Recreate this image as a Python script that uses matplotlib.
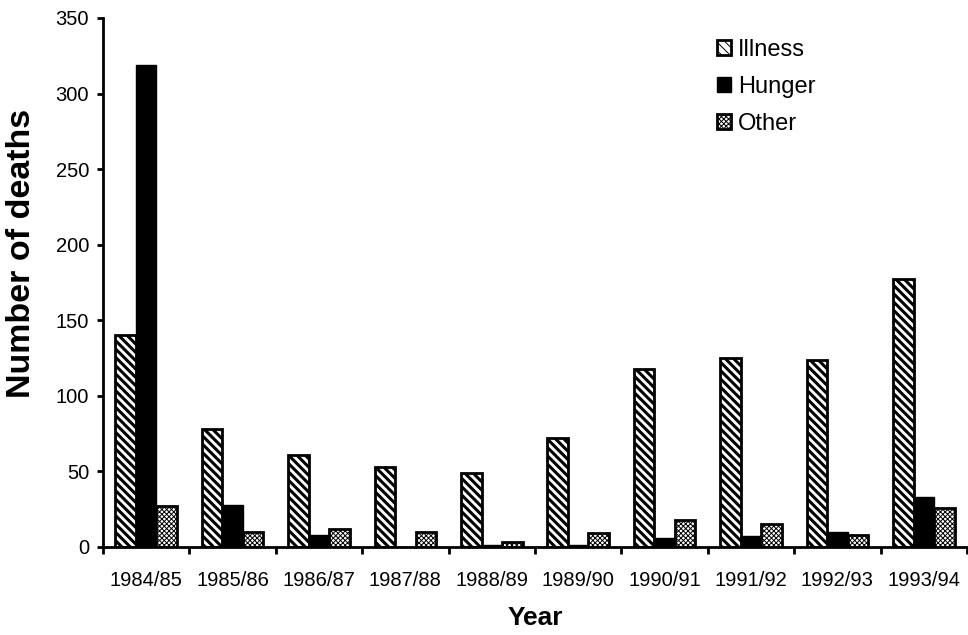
import numpy as np
import matplotlib.pyplot as plt

plt.rcParams['font.family'] = ['Liberation Sans', 'DejaVu Sans']

years = ['1984/85', '1985/86', '1986/87', '1987/88', '1988/89',
         '1989/90', '1990/91', '1991/92', '1992/93', '1993/94']
illness = [140, 78, 61, 53, 49, 72, 118, 125, 124, 177]
hunger = [319, 28, 8, 0, 1, 1, 6, 7, 10, 33]
other = [27, 10, 12, 10, 3, 9, 18, 15, 8, 26]

fig = plt.figure(figsize=(9.68, 6.35), dpi=100)
ax = fig.add_axes([0.1064, 0.1386, 0.8926, 0.8331])

x = np.arange(len(years))
w = 0.237

plt.rcParams['hatch.linewidth'] = 2.2
b1 = ax.bar(x - w, illness, w, color='white', edgecolor='black',
            linewidth=2.0, hatch='\\\\\\\\', label='Illness')
b2 = ax.bar(x, hunger, w, color='black', edgecolor='black',
            linewidth=1.0, label='Hunger')
plt.rcParams['hatch.linewidth'] = 0.7
b3 = ax.bar(x + w, other, w, color='white', edgecolor='black',
            linewidth=2.0, hatch='xxxxxxx', label='Other')
# keep per-bar hatch widths when the patches store their own
for bars, lw in ((b1, 2.2), (b3, 0.7)):
    for p in bars:
        if hasattr(p, 'set_hatch_linewidth'):
            p.set_hatch_linewidth(lw)

ax.set_xlim(-0.5, len(years) - 0.5)
ax.set_ylim(0, 350)
ax.set_yticks(range(0, 351, 50))

# labels centred under each group, tick marks between groups
ax.set_xticks(x)
ax.set_xticklabels(years)
ax.set_xticks(np.arange(-0.5, len(years), 1.0), minor=True)
ax.tick_params(axis='x', which='major', length=0, pad=17, labelsize=14.5)
ax.tick_params(axis='x', which='minor', length=5, width=2, direction='out')
ax.tick_params(axis='y', length=4, width=2, pad=6, labelsize=14.5)

for s in ('top', 'right'):
    ax.spines[s].set_visible(False)
for s in ('left', 'bottom'):
    ax.spines[s].set_linewidth(2)

ax.set_ylabel('Number of deaths', fontsize=24.5, fontweight='bold', va='center')
ax.yaxis.set_label_coords(-0.094, 0.554)
ax.set_xlabel('Year', fontsize=19, fontweight='bold', labelpad=12)

ax.legend(loc='upper left', bbox_to_anchor=(0.731, 0.953), bbox_transform=fig.transFigure,
          frameon=False, fontsize=17, handlelength=0.6, handleheight=0.6,
          handletextpad=0.3, labelspacing=0.62, borderaxespad=0)

fig.savefig('out.png', dpi=100)
